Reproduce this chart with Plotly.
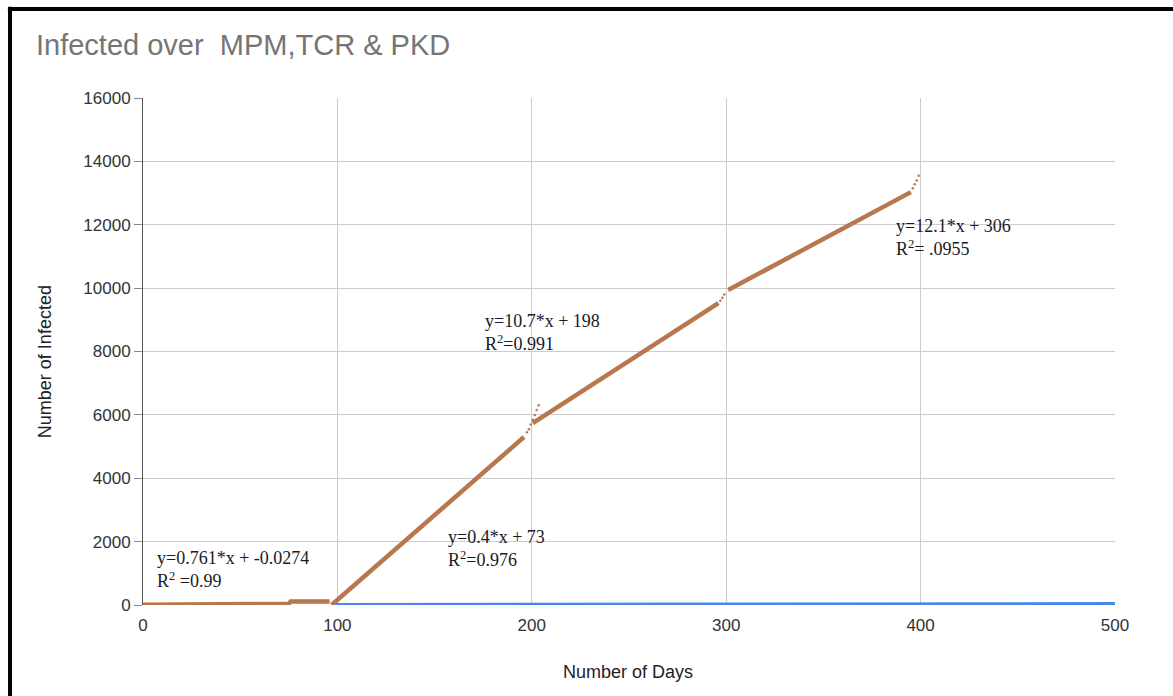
import plotly.graph_objects as go

# ---- data ----
mpm_x = [0, 56, 57, 75, 76, 96]
mpm_y = [10, 10, 40, 40, 110, 110]

tcr_x = [97, 196]
tcr_y = [0, 5300]

tcr_gap_x = [197.5, 198.5, 199.5, 200.5, 201.5, 202.5, 203.5]
tcr_gap_y = [5450, 5550, 5700, 5850, 6000, 6150, 6300]

pkd1_x = [200.5, 296]
pkd1_y = [5740, 9530]

pkd_gap_x = [297, 298, 299]
pkd_gap_y = [9600, 9700, 9800]

pkd2_x = [301, 395]
pkd2_y = [9940, 13030]

pkd_end_x = [396, 397, 398, 399]
pkd_end_y = [13150, 13280, 13400, 13550]

blue_x = [97, 500]
blue_y = [15, 45]

x_ticks = [0, 100, 200, 300, 400, 500]
y_ticks = [0, 2000, 4000, 6000, 8000, 10000, 12000, 14000, 16000]
y_tick_labels = ["0", "2000", "4000", "6000", "8000", "10000", "12000", "14000", "16000"]

eq_text = [
    "y=0.761*x + -0.0274<br>R<sup>2</sup> =0.99",
    "y=0.4*x + 73<br>R<sup>2</sup>=0.976",
    "y=10.7*x + 198<br>R<sup>2</sup>=0.991",
    "y=12.1*x + 306<br>R<sup>2</sup>= .0955",
]
eq_x = [6.2, 155.9, 174.9, 386.3]
eq_y = [1136, 1783, 8600, 11598]

BROWN = "#b7774f"
BLUE = "#4a86e8"

fig = go.Figure()

fig.add_trace(go.Scatter(x=blue_x, y=blue_y, mode="lines",
                         line=dict(color=BLUE, width=3), showlegend=False))
for xs, ys in [(mpm_x, mpm_y), (tcr_x, tcr_y), (pkd1_x, pkd1_y), (pkd2_x, pkd2_y)]:
    fig.add_trace(go.Scatter(x=xs, y=ys, mode="lines",
                             line=dict(color=BROWN, width=4.5), showlegend=False))
for xs, ys in [(tcr_gap_x, tcr_gap_y), (pkd_gap_x, pkd_gap_y), (pkd_end_x, pkd_end_y)]:
    fig.add_trace(go.Scatter(x=xs, y=ys, mode="markers",
                             marker=dict(color=BROWN, size=2.5), showlegend=False))

for t, ax, ay in zip(eq_text, eq_x, eq_y):
    fig.add_annotation(x=ax, y=ay, xref="x", yref="y", text=t, showarrow=False,
                       xanchor="left", yanchor="middle", align="left",
                       font=dict(family="Liberation Serif", size=18, color="#1a1a24"))

# axis titles
fig.add_annotation(x=0.499, y=-0.132, xref="paper", yref="paper", text="Number of Days",
                   showarrow=False, xanchor="center", yanchor="middle",
                   font=dict(family="Liberation Sans", size=18, color="#222"))
fig.add_annotation(x=-0.1008, y=0.479, xref="paper", yref="paper", text="Number of Infected",
                   showarrow=False, xanchor="center", yanchor="middle", textangle=-90,
                   font=dict(family="Liberation Sans", size=18, color="#222"))

# black frame (left and top)
fig.add_shape(type="line", xref="paper", yref="paper", x0=-0.1368, x1=-0.1368,
              y0=1.18, y1=-0.2, line=dict(color="black", width=4))
fig.add_shape(type="line", xref="paper", yref="paper", x0=-0.139, x1=1.07,
              y0=1.1755, y1=1.1755, line=dict(color="black", width=4))

fig.update_layout(
    width=1173, height=696,
    margin=dict(l=143, r=58, t=98, b=91),
    paper_bgcolor="white", plot_bgcolor="white",
    title=dict(text="Infected over\u00a0\u00a0MPM,TCR &amp; PKD", x=36 / 1173, xanchor="left",
               y=1 - 45 / 696, yanchor="middle",
               font=dict(family="Liberation Sans", size=29, color="#757575")),
    font=dict(family="Liberation Sans"),
)
fig.update_xaxes(range=[0, 500], tickvals=x_ticks, showgrid=True, gridcolor="#cccccc",
                 gridwidth=1, zeroline=False, showline=False, ticks="",
                 tickfont=dict(size=17, color="#333"), ticklabelstandoff=8)
fig.update_yaxes(range=[0, 16000], tickvals=y_ticks, ticktext=y_tick_labels,
                 showgrid=True, gridcolor="#cccccc",
                 gridwidth=1, zeroline=False, showline=True, linecolor="#555",
                 linewidth=1, ticks="outside", ticklen=8, tickcolor="#888",
                 tickfont=dict(size=17, color="#333"))

fig.write_html("out.html")
